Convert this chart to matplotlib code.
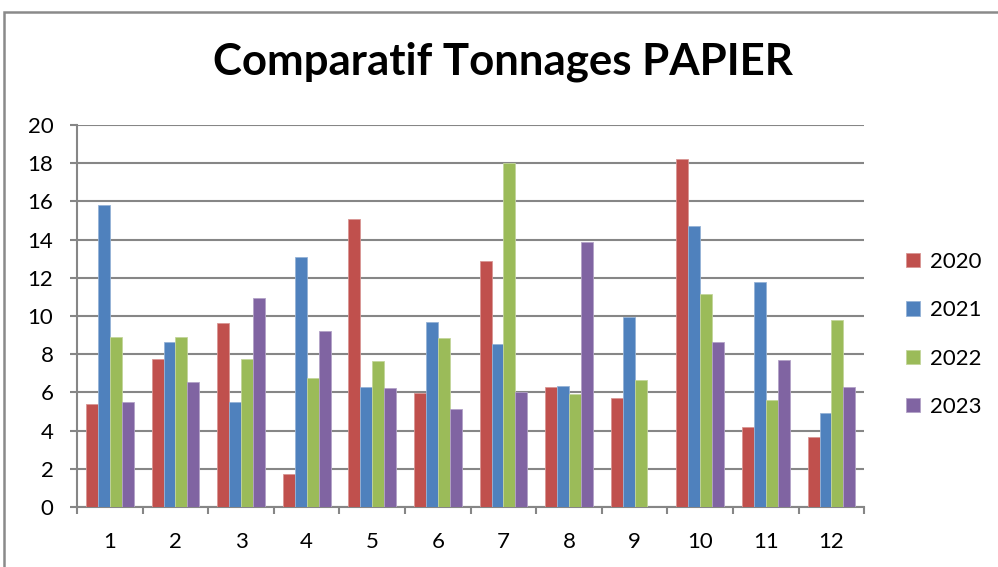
import numpy as np
import matplotlib.pyplot as plt
from matplotlib.patches import Rectangle, Patch

months = ['1', '2', '3', '4', '5', '6', '7', '8', '9', '10', '11', '12']
years = ['2020', '2021', '2022', '2023']
t2020 = [5.41, 7.77, 9.66, 1.73, 15.09, 5.96, 12.87, 6.29, 5.69, 18.24, 4.21, 3.67]
t2021 = [15.83, 8.65, 5.48, 13.08, 6.29, 9.71, 8.51, 6.36, 9.94, 14.69, 11.79, 4.94]
t2022 = [8.91, 8.91, 7.77, 6.76, 7.63, 8.84, 18.03, 5.90, 6.64, 11.13, 5.62, 9.78]
t2023 = [5.48, 6.55, 10.92, 9.24, 6.22, 5.15, 6.03, 13.87, 0, 8.65, 7.70, 6.29]
series = [t2020, t2021, t2022, t2023]
colors = ['#C0504D', '#4F81BD', '#9BBB59', '#8064A2']
edges = ['#D99694', '#95B3D7', '#C3D69B', '#B3A2C7']

plt.rcParams['font.family'] = ['Lato', 'DejaVu Sans']

fig = plt.figure(figsize=(9.98, 5.67), dpi=100)
ax = fig.add_axes([0.0772, 0.1058, 0.7888, 0.6737])

# chart frame
fig.patches.append(Rectangle((4 / 998, -0.05), 1.1, 1 - 12 / 567 + 0.05,
                             transform=fig.transFigure, fill=False,
                             edgecolor='#8A8A8A', lw=1.8))

x = np.arange(len(months))
w = 1 / 5.5
for i, (vals, c, e) in enumerate(zip(series, colors, edges)):
    ax.bar(x + (i - 1.5) * w, vals, width=w, color=c, edgecolor=e,
           linewidth=0.6, label=years[i], zorder=3)

ax.set_xlim(-0.5, 11.5)
ax.set_ylim(0, 20)
ax.set_yticks(range(0, 21, 2))
ax.set_xticks(x)
ax.set_xticklabels(months)
ax.set_xticks(np.arange(-0.5, 12, 1), minor=True)
ax.tick_params(axis='x', which='major', length=0, pad=18, labelsize=16)
ax.tick_params(axis='x', which='minor', length=5, width=1.5, color='#868686')
ax.tick_params(axis='y', length=5, width=1.5, color='#868686', pad=12, labelsize=16)
ax.grid(axis='y', color='#868686', lw=1.5, zorder=0)
for s in ['top', 'right']:
    ax.spines[s].set_visible(False)
for s in ['left', 'bottom']:
    ax.spines[s].set_color('#868686')
    ax.spines[s].set_linewidth(1.5)

fig.text(0.504, 0.891, 'Comparatif Tonnages PAPIER', ha='center', va='center',
         fontsize=31.5, fontweight='bold')

handles = [Patch(facecolor=c, edgecolor=e, lw=0.6) for c, e in zip(colors, edges)]
fig.legend(handles, years, loc='center left', bbox_to_anchor=(0.888, 0.41),
           frameon=False, fontsize=16, handlelength=0.6, handleheight=0.6,
           labelspacing=1.28, handletextpad=0.45)

fig.savefig('out.png', dpi=100)
